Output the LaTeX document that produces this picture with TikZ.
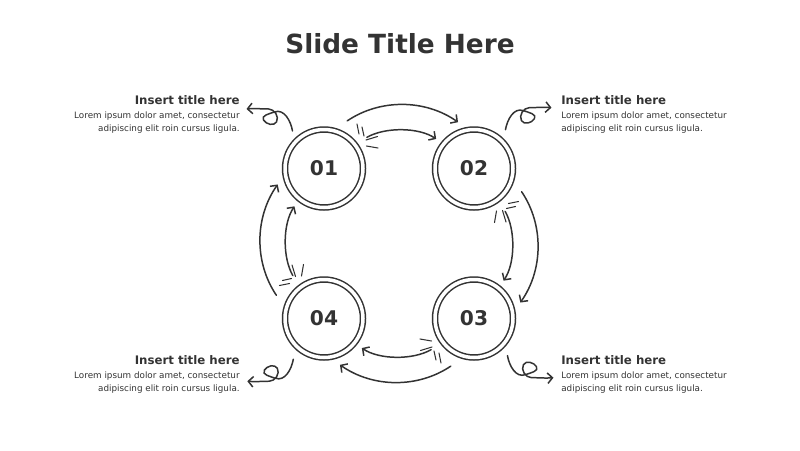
\documentclass[tikz,border=0pt]{standalone}
\usepackage{fontspec}
\setmainfont{DejaVu Sans}
\usetikzlibrary{positioning,arrows.meta}
\definecolor{ink}{HTML}{333333}
\tikzset{
  ring/.style={circle, draw=ink, line width=0.85pt, double=white, double distance=2pt,
    minimum size=1.56cm, inner sep=0pt, font=\fontsize{11.5}{13}\selectfont\bfseries, text=ink},
  flow/.style={draw=ink, line width=0.85pt, line cap=round, -{Straight Barb[length=2.8pt,width=6pt]}},
  hatch/.style={draw=ink, line width=0.6pt, line cap=round},
  head/.style={inner sep=0pt, font=\fontsize{6.7}{8}\selectfont\bfseries, text=ink},
  desc/.style={inner sep=0pt, font=\fontsize{5}{7.4}\selectfont, text=ink},
  curl/.pic={\draw[flow] (0,0) to[out=100,in=20] (-18,19) to[out=200,in=120] (-29,11)
    to[out=-60,in=-120] (-16,9) to[out=60,in=0] (-24,22) to[out=180,in=5] (-46,22);}
}
\begin{document}
\begin{tikzpicture}[x=0.02cm, y=0.02cm]
\useasboundingbox (0,0) rectangle (800,-450);
\fill[white] (0,0) rectangle (800,-450);

\node[font=\fontsize{15}{18}\selectfont\bfseries, text=ink, anchor=base] (title) at (400,-53) {Slide Title Here};

% circles
\node[ring] (c1) at (324,-168.5) {01};
\node[ring] (c2) at (474,-168.5) {02};
\node[ring] (c3) at (474,-318.5) {03};
\node[ring] (c4) at (324,-318.5) {04};

% arcs and hatch marks
\foreach \a/\b/\r in {c1/c2/0, c2/c3/270, c3/c4/180, c4/c1/90}{
  \draw[flow] ([shift={(64+\r:53)}]\a.center) .. controls +(34+\r:40) and +(145+\r:40) .. ([shift={(109+\r:49)}]\b.center);
  \draw[flow] ([shift={(36+\r:53)}]\a.center) .. controls +(30+\r:21) and +(146+\r:21) .. ([shift={(142+\r:48)}]\b.center);
  \begin{scope}[shift={(\a.center)}, rotate=\r]
    \draw[hatch] (33,44.5) -- (35,34.5);
    \draw[hatch] (38,41.5) -- (40,32.5);
    \draw[hatch] (42,28.5) -- (53.5,32);
    \draw[hatch] (42.5,22.5) -- (54,20.5);
  \end{scope}
}

% curls
\pic at ([shift={(130:49)}]c1.center) {curl};
\pic[xscale=-1] at ([shift={(51:50)}]c2.center) {curl};
\pic[xscale=-1, yscale=-1] at ([shift={(-48:50)}]c3.center) {curl};
\pic[yscale=-1] at ([shift={(233:51)}]c4.center) {curl};

% texts
\node[head, anchor=base east] (h1) at (240,-104.5) {Insert title here};
\node[desc, align=right, below left=3.6pt and 0pt of h1.south east] (d1) {Lorem ipsum dolor amet, consectetur\\adipiscing elit roin cursus ligula.};
\node[head, anchor=base west] (h2) at (561,-104.5) {Insert title here};
\node[desc, align=left, below right=3.6pt and 0pt of h2.south west] (d2) {Lorem ipsum dolor amet, consectetur\\adipiscing elit roin cursus ligula.};
\node[head, anchor=base west] (h3) at (561,-364.5) {Insert title here};
\node[desc, align=left, below right=3.6pt and 0pt of h3.south west] (d3) {Lorem ipsum dolor amet, consectetur\\adipiscing elit roin cursus ligula.};
\node[head, anchor=base east] (h4) at (240,-364.5) {Insert title here};
\node[desc, align=right, below left=3.6pt and 0pt of h4.south east] (d4) {Lorem ipsum dolor amet, consectetur\\adipiscing elit roin cursus ligula.};
\end{tikzpicture}
\end{document}
